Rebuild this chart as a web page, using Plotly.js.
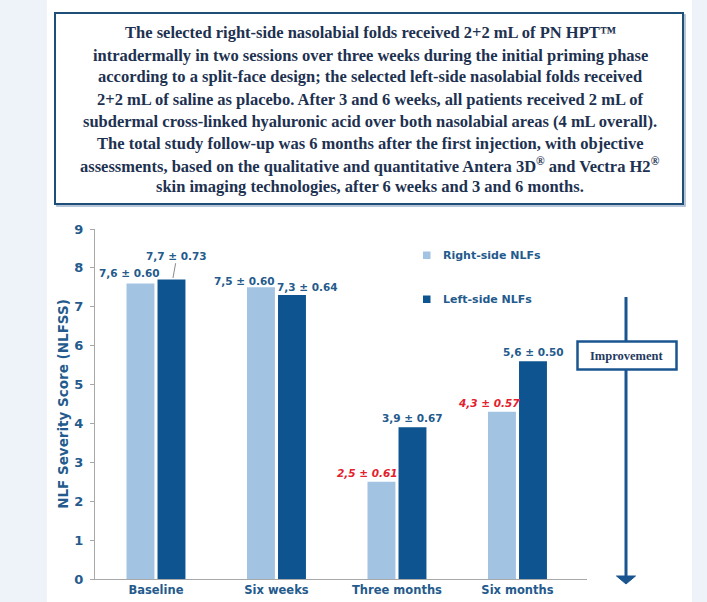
<!DOCTYPE html>
<html>
<head>
<meta charset="utf-8">
<script src="https://cdn.plot.ly/plotly-3.0.1.min.js"></script>
<style>
  html, body { margin: 0; padding: 0; }
  body {
    width: 707px; height: 602px; overflow: hidden;
    background: linear-gradient(to right, #eef3fa 0px, #eef3fa 47px, #ffffff 47px, #ffffff 692px, #eef3fa 692px);
  }
  #chart { width: 707px; height: 602px; }
</style>
</head>
<body>
<div id="chart"></div>
<script>
// ---- data ----
const categories = ['Baseline', 'Six weeks', 'Three months', 'Six months'];
const seriesNames = ['Right-side NLFs', 'Left-side NLFs'];
const rightMeans = [7.6, 7.5, 2.5, 4.3];
const rightSD = [0.60, 0.60, 0.61, 0.57];
const leftMeans = [7.7, 7.3, 3.9, 5.6];
const leftSD = [0.73, 0.64, 0.67, 0.50];
const rightSignificant = [false, false, true, true];
const yTickVals = [0, 1, 2, 3, 4, 5, 6, 7, 8, 9];
const yTitle = 'NLF Severity Score (NLFSS)';
const improvementLabel = 'Improvement';
const boxLines = [
  'The selected right-side nasolabial folds received 2+2 mL of PN HPT™',
  'intradermally in two sessions over three weeks during the initial priming phase',
  'according to a split-face design; the selected left-side nasolabial folds received',
  '2+2 mL of saline as placebo. After 3 and 6 weeks, all patients received 2 mL of',
  'subdermal cross-linked hyaluronic acid over both nasolabial areas (4 mL overall).',
  'The total study follow-up was 6 months after the first injection, with objective',
  'assessments, based on the qualitative and quantitative Antera 3D<sup>®</sup> and Vectra H2<sup>®</sup>',
  'skin imaging technologies, after 6 weeks and 3 and 6 months.'
];

// ---- styles / geometry ----
const lightBlue = '#a3c3e3';
const darkBlue = '#0e5490';
const textBlue = '#245a8c';
const red = '#e3202b';
const navy = '#1d3150';
const W = 707, H = 602;
const M = {l: 95, r: 120, t: 229, b: 23};
const PW = W - M.l - M.r, PH = H - M.t - M.b;
const px = x => (x - M.l) / PW;        // pixel -> paper x
const py = y => (H - M.b - y) / PH;    // pixel -> paper y

// label offsets (px) relative to category centre and bar top
const rightLabelShift = [[-26, 10], [-32, 6], [-29, 9], [-28, 9]];
const leftLabelShift  = [[21, 23.5], [31.5, 8], [16, 9], [16.5, 9]];

function fmt(m, sd) {
  return m.toFixed(1).replace('.', ',') + ' ± ' + sd.toFixed(2);
}

const traces = [
  {type: 'bar', name: seriesNames[0], x: categories, y: rightMeans,
   marker: {color: lightBlue}, hoverinfo: 'x+y', showlegend: false},
  {type: 'bar', name: seriesNames[1], x: categories, y: leftMeans,
   marker: {color: darkBlue}, hoverinfo: 'x+y', showlegend: false}
];

const annotations = [];
categories.forEach((c, i) => {
  const sig = rightSignificant[i];
  annotations.push({
    x: c, y: rightMeans[i], xref: 'x', yref: 'y',
    text: fmt(rightMeans[i], rightSD[i]), showarrow: false,
    xshift: rightLabelShift[i][0], yshift: rightLabelShift[i][1],
    xanchor: 'center', yanchor: 'middle',
    font: {family: 'DejaVu Sans', size: 10.5, color: sig ? red : textBlue,
           weight: 700, style: sig ? 'italic' : 'normal'}
  });
  annotations.push({
    x: c, y: leftMeans[i], xref: 'x', yref: 'y',
    text: fmt(leftMeans[i], leftSD[i]), showarrow: false,
    xshift: leftLabelShift[i][0], yshift: leftLabelShift[i][1],
    xanchor: 'center', yanchor: 'middle',
    font: {family: 'DejaVu Sans', size: 10.5, color: textBlue, weight: 700}
  });
});

// legend (manual)
const legendY = [255, 299];
const legendColors = [lightBlue, darkBlue];
seriesNames.forEach((n, i) => {
  annotations.push({
    x: px(441), y: py(legendY[i]), xref: 'paper', yref: 'paper',
    text: n, showarrow: false, xanchor: 'left', yanchor: 'middle',
    font: {family: 'DejaVu Sans', size: 11, color: textBlue, weight: 700}
  });
});

// improvement text
annotations.push({
  x: px(627), y: py(355.5), xref: 'paper', yref: 'paper',
  text: improvementLabel, showarrow: false, xanchor: 'center', yanchor: 'middle',
  font: {family: 'Liberation Serif', size: 12.5, color: '#1f3a60', weight: 700}
});

// top box text
const lineY = [33, 55, 77, 99, 121.5, 143.5, 165.5, 187];
boxLines.forEach((t, i) => {
  annotations.push({
    x: px(370), y: py(lineY[i]), xref: 'paper', yref: 'paper',
    text: t, showarrow: false, xanchor: 'center', yanchor: 'middle',
    font: {family: 'Liberation Serif', size: 16.5, color: navy, weight: 700}
  });
});

const shapes = [
  // top box shadow
  {type: 'rect', xref: 'paper', yref: 'paper', x0: px(57), x1: px(685), y0: py(206), y1: py(15),
   line: {color: '#9fb4cc', width: 1.5}, fillcolor: 'rgba(0,0,0,0)', layer: 'below'},
  // top box
  {type: 'rect', xref: 'paper', yref: 'paper', x0: px(55), x1: px(683), y0: py(204), y1: py(13),
   line: {color: '#1f4e79', width: 2}, fillcolor: '#ffffff', layer: 'below'},
  // leader line for baseline left label
  {type: 'line', xref: 'x', yref: 'y', x0: 0.163, y0: 8.12, x1: 0.141, y1: 7.74,
   line: {color: '#8a8a8a', width: 1}},
  // legend squares
  {type: 'rect', xref: 'paper', yref: 'paper', x0: px(423), x1: px(430.5), y0: py(259), y1: py(251.5),
   line: {width: 0}, fillcolor: legendColors[0]},
  {type: 'rect', xref: 'paper', yref: 'paper', x0: px(423), x1: px(430.5), y0: py(303), y1: py(295.5),
   line: {width: 0}, fillcolor: legendColors[1]},
  // improvement arrow shaft
  {type: 'line', xref: 'paper', yref: 'paper', x0: px(626), x1: px(626), y0: py(297), y1: py(577),
   line: {color: '#1a5590', width: 3}},
  // arrow head
  {type: 'path', xref: 'paper', yref: 'paper',
   path: 'M ' + px(616.5) + ' ' + py(576) + ' L ' + px(635.5) + ' ' + py(576) + ' L ' + px(626) + ' ' + py(584) + ' Z',
   fillcolor: '#1a5590', line: {color: '#1a5590', width: 1}},
  // improvement box
  {type: 'rect', xref: 'paper', yref: 'paper', x0: px(577.5), x1: px(676.5), y0: py(369.5), y1: py(341.5),
   line: {color: '#1a5590', width: 2.5}, fillcolor: '#ffffff'}
];

const layout = {
  width: W, height: H,
  margin: M,
  paper_bgcolor: 'rgba(0,0,0,0)',
  plot_bgcolor: 'rgba(0,0,0,0)',
  barmode: 'group',
  bargap: 0.485,
  bargroupgap: 0.1,
  showlegend: false,
  xaxis: {
    type: 'category', range: [-0.506, 3.577], fixedrange: true,
    showline: true, linecolor: '#a8a8a8', linewidth: 1,
    ticks: '', showgrid: false, zeroline: false, automargin: false,
    tickfont: {family: 'DejaVu Sans', size: 11.5, color: textBlue, weight: 700}
  },
  yaxis: {
    range: [0, 9], tickvals: yTickVals, fixedrange: true,
    showline: true, linecolor: '#a8a8a8', linewidth: 1,
    ticks: 'outside', ticklen: 4, tickcolor: '#a8a8a8', ticklabelstandoff: 4,
    showgrid: false, zeroline: false, automargin: false,
    tickfont: {family: 'DejaVu Sans', size: 13, color: textBlue, weight: 700},
    title: {text: yTitle, standoff: 2,
            font: {family: 'DejaVu Sans', size: 13.5, color: textBlue, weight: 700}}
  },
  annotations: annotations,
  shapes: shapes
};

Plotly.newPlot('chart', traces, layout, {displayModeBar: false, staticPlot: true});
</script>
</body>
</html>
